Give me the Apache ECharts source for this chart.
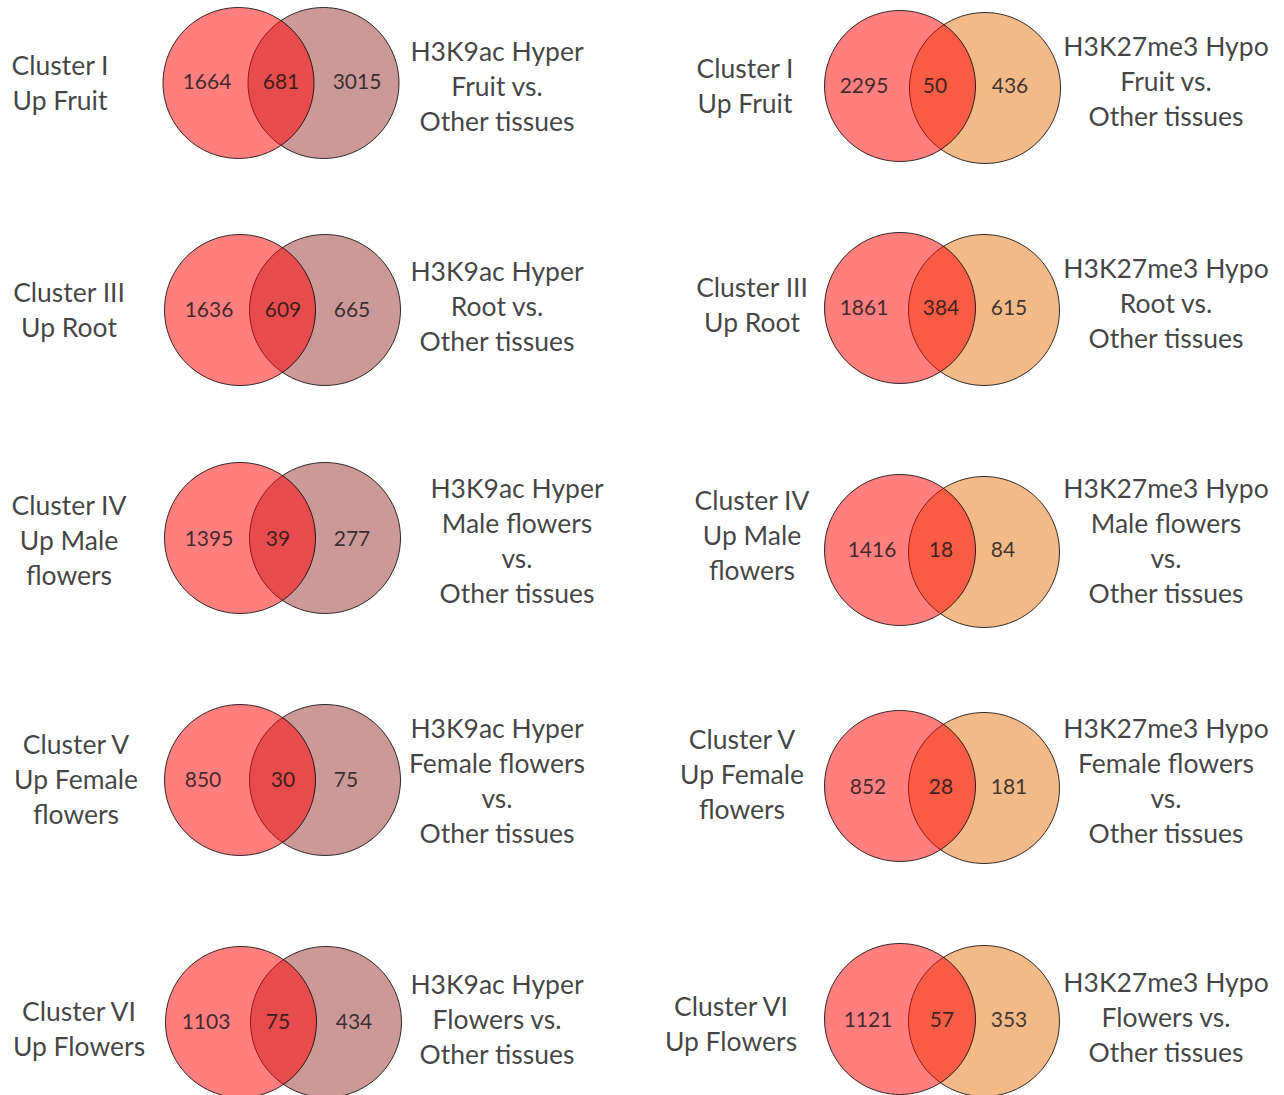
<!DOCTYPE html>
<html>
<head>
<meta charset="utf-8">
<script src="https://cdn.jsdelivr.net/npm/echarts@6/dist/echarts.min.js"></script>
<style>
html,body{margin:0;padding:0;background:#fff;}
#chart{width:1284px;height:1095px;}
</style>
</head>
<body>
<div id="chart"></div>
<script>
// ---------- DATA ----------
const clusterNames = [
  'Cluster I\nUp Fruit',
  'Cluster III\nUp Root',
  'Cluster IV\nUp Male\nflowers',
  'Cluster V\nUp Female\nflowers',
  'Cluster VI\nUp Flowers'
];
const h3k9acNames = [
  'H3K9ac Hyper\nFruit vs.\nOther tissues',
  'H3K9ac Hyper\nRoot vs.\nOther tissues',
  'H3K9ac Hyper\nMale flowers\nvs.\nOther tissues',
  'H3K9ac Hyper\nFemale flowers\nvs.\nOther tissues',
  'H3K9ac Hyper\nFlowers vs.\nOther tissues'
];
const h3k27Names = [
  'H3K27me3 Hypo\nFruit vs.\nOther tissues',
  'H3K27me3 Hypo\nRoot vs.\nOther tissues',
  'H3K27me3 Hypo\nMale flowers\nvs.\nOther tissues',
  'H3K27me3 Hypo\nFemale flowers\nvs.\nOther tissues',
  'H3K27me3 Hypo\nFlowers vs.\nOther tissues'
];
const k9ClusterOnly = [1664, 1636, 1395, 850, 1103];
const k9Overlap     = [681, 609, 39, 30, 75];
const k9MarkOnly    = [3015, 665, 277, 75, 434];
const k27ClusterOnly = [2295, 1861, 1416, 852, 1121];
const k27Overlap     = [50, 384, 18, 28, 57];
const k27MarkOnly    = [436, 615, 84, 181, 353];

// ---------- LAYOUT (positions only) ----------
const layoutK9 = [
  {lc:[238.5,83], rc:[323.5,83], nx:[207,281,357], ny:80,  ll:[60,82.5],  rl:[497,86]},
  {lc:[240,310],  rc:[325,310],  nx:[209,283,352], ny:308, ll:[69,309.5], rl:[497,306]},
  {lc:[240,538],  rc:[325,538],  nx:[209,278,352], ny:537, ll:[69,539.5], rl:[517,540.5]},
  {lc:[240,780],  rc:[325,780],  nx:[203,283,346], ny:778, ll:[76,779],   rl:[497,780]},
  {lc:[241,1022], rc:[326,1022], nx:[206,278,354], ny:1020,ll:[79,1028.5],rl:[497,1019]}
];
const layoutK27 = [
  {lc:[900,86],   rc:[985,88],   nx:[864,935,1010], ny:84,  ll:[745,85.5],  rl:[1166,81]},
  {lc:[900,308],  rc:[984,310],  nx:[864,941,1009], ny:306, ll:[752,304.5], rl:[1166,303]},
  {lc:[900,550],  rc:[984,552],  nx:[872,941,1003], ny:548, ll:[752,535],   rl:[1166,540.5]},
  {lc:[900,786],  rc:[984,788],  nx:[868,941,1009], ny:785, ll:[742,774],   rl:[1166,780]},
  {lc:[900,1019], rc:[984,1021], nx:[868,942,1009], ny:1018,ll:[731,1023.5],rl:[1166,1016.5]}
];
const R = 151;
const FONT = 'Lato, "Open Sans", sans-serif';

const clusterCircles = [], k9Circles = [], k27Circles = [], numbers = [], titles = [];
function addPanel(L, i, names, onlyC, ov, onlyM, markArr) {
  clusterCircles.push({value: L.lc, name: clusterNames[i]});
  markArr.push({value: L.rc, name: names[i]});
  numbers.push({value:[L.nx[0], L.ny], label:{formatter: String(onlyC[i])}});
  numbers.push({value:[L.nx[1], L.ny], label:{formatter: String(ov[i])}});
  numbers.push({value:[L.nx[2], L.ny], label:{formatter: String(onlyM[i])}});
  titles.push({value: L.ll, label:{formatter: clusterNames[i]}});
  titles.push({value: L.rl, label:{formatter: names[i]}});
}
for (let i = 0; i < 5; i++) {
  addPanel(layoutK9[i], i, h3k9acNames, k9ClusterOnly, k9Overlap, k9MarkOnly, k9Circles);
  addPanel(layoutK27[i], i, h3k27Names, k27ClusterOnly, k27Overlap, k27MarkOnly, k27Circles);
}

const chart = echarts.init(document.getElementById('chart'), null, {renderer: 'svg'});
const circleStyle = (c) => ({color: c, borderColor: '#000', borderWidth: 0.8, opacity: 1});
chart.setOption({
  animation: false,
  backgroundColor: '#fff',
  grid: {left: 0, right: 0, top: 0, bottom: 0},
  xAxis: {type: 'value', min: 0, max: 1284, show: false},
  yAxis: {type: 'value', min: 0, max: 1095, inverse: true, show: false},
  series: [
    {type: 'scatter', symbol: 'circle', symbolSize: R, data: k9Circles,
     itemStyle: circleStyle('rgba(153,51,51,0.5)'), silent: true, z: 1},
    {type: 'scatter', symbol: 'circle', symbolSize: R, data: k27Circles,
     itemStyle: circleStyle('rgba(230,115,20,0.5)'), silent: true, z: 1},
    {type: 'scatter', symbol: 'circle', symbolSize: R, data: clusterCircles,
     itemStyle: circleStyle('rgba(255,0,0,0.5)'), silent: true, z: 2},
    {type: 'scatter', symbolSize: 0, data: numbers, silent: true, z: 3,
     label: {show: true, position: 'inside', color: '#111', fontFamily: FONT,
             fontSize: 21, align: 'center', verticalAlign: 'middle'}},
    {type: 'scatter', symbolSize: 0, data: titles, silent: true, z: 3,
     label: {show: true, position: 'inside', color: '#111', fontFamily: FONT,
             fontSize: 26.5, lineHeight: 35, align: 'center', verticalAlign: 'middle'}}
  ]
});
</script>
</body>
</html>
